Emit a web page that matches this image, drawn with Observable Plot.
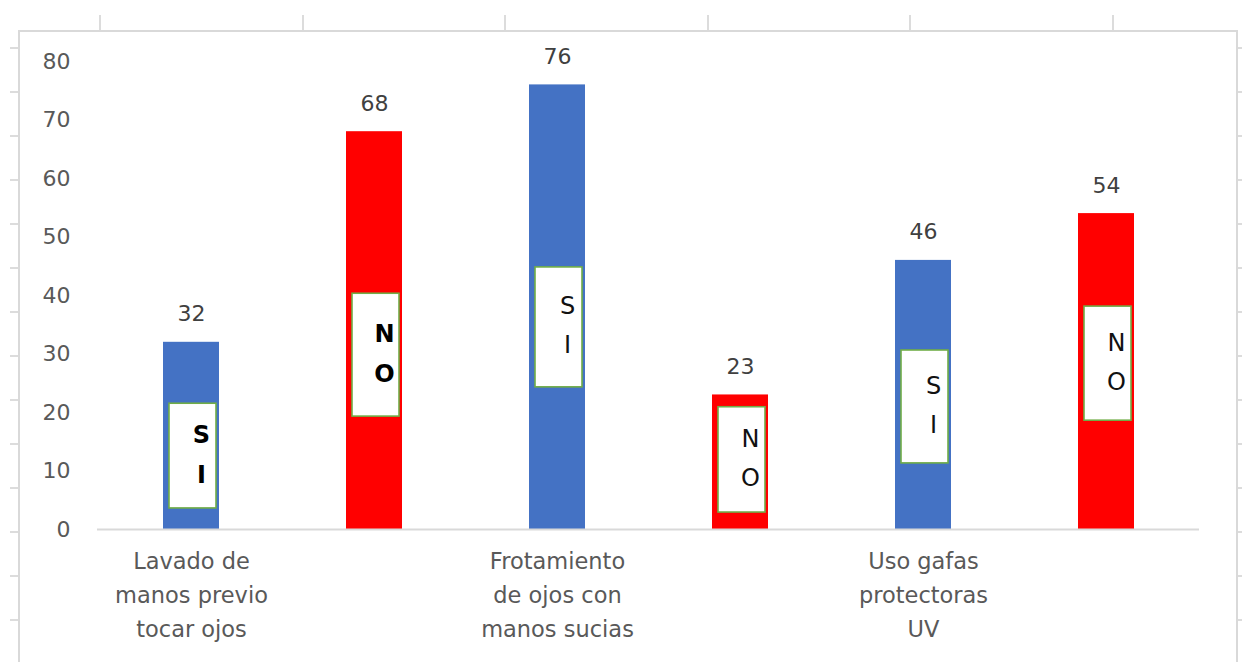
<!DOCTYPE html>
<html>
<head>
<meta charset="utf-8">
<script src="https://cdn.jsdelivr.net/npm/d3@7"></script>
<script src="https://cdn.jsdelivr.net/npm/@observablehq/plot@0.6"></script>
<style>
  html, body { margin: 0; padding: 0; background: #fff; }
  #page { position: relative; width: 1242px; height: 662px; overflow: hidden; background: #fff; font-family: "DejaVu Sans", sans-serif; }
  .cell { position: absolute; background: #dcdcdc; }
  #chart { position: absolute; left: 18px; top: 30px; width: 1216px; height: 700px; border: 2px solid #d9d9d9; background: #fff; }
  #chart svg { display: block; }
</style>
</head>
<body>
<div id="page"><div id="chart"></div></div>
<script>
// ---- data ----
const groups = ["Lavado de manos previo tocar ojos", "Frotamiento de ojos con manos sucias", "Uso gafas protectoras UV"];
const groupTickLabels = ["Lavado de\nmanos previo\ntocar ojos", "Frotamiento\nde ojos con\nmanos sucias", "Uso gafas\nprotectoras\nUV"];
const series = ["SI", "NO"];
const siValues = [32, 76, 46];
const noValues = [68, 23, 54];
// value range (in axis units) covered by the white "S I" / "N O" text boxes drawn on each bar
const siBoxRange = [[3.6, 21.5], [24.3, 44.8], [11.3, 30.6]];
const noBoxRange = [[19.3, 40.3], [2.9, 20.9], [18.6, 38.1]];
const yTicks = [0, 10, 20, 30, 40, 50, 60, 70, 80];
const seriesColors = ["#4472c4", "#ff0000"];

// ---- build table ----
const rows = [];
groups.forEach((g, i) => {
  rows.push({group: g, series: "SI", key: g + "|SI", value: siValues[i], lo: siBoxRange[i][0], hi: siBoxRange[i][1], tick: groupTickLabels[i]});
  rows.push({group: g, series: "NO", key: g + "|NO", value: noValues[i], lo: noBoxRange[i][0], hi: noBoxRange[i][1], tick: ""});
});
const tickByKey = new Map(rows.map(d => [d.key, d.tick]));
const letters = d => d.series.split("").join("\n");

// spreadsheet cell lines around the embedded chart (decoration)
const page = document.getElementById("page");
[100, 303, 505, 708, 910, 1113].forEach(x => {
  const e = document.createElement("div"); e.className = "cell";
  Object.assign(e.style, {left: (x - 1) + "px", top: "15px", width: "2px", height: "16px"});
  page.insertBefore(e, page.firstChild);
});
for (let y = 48; y < 662; y += 44) {
  const l = document.createElement("div"); l.className = "cell";
  Object.assign(l.style, {left: "10px", top: (y - 1) + "px", width: "9px", height: "2px"});
  page.insertBefore(l, page.firstChild);
  const r = document.createElement("div"); r.className = "cell";
  Object.assign(r.style, {left: "1235px", top: (y - 1) + "px", width: "7px", height: "2px"});
  page.insertBefore(r, page.firstChild);
}

const chart = Plot.plot({
  width: 1216,
  height: 630,
  marginTop: 29,
  marginBottom: 133,
  marginLeft: 77,
  marginRight: 37,
  style: {fontFamily: "'DejaVu Sans', sans-serif", background: "transparent"},
  x: {domain: rows.map(d => d.key), paddingInner: 0.695, paddingOuter: 0.3475, axis: null},
  y: {domain: [0, 80], axis: null},
  color: {domain: series, range: seriesColors},
  marks: [
    Plot.axisY({ticks: yTicks, tickSize: 0, tickPadding: 27, fontSize: 22, color: "#595959", label: null}),
    Plot.axisX({tickSize: 0, tickPadding: 15, fontSize: 22.5, color: "#595959", lineHeight: 1.52, label: null,
                tickFormat: k => tickByKey.get(k)}),
    Plot.barY(rows, {x: "key", y: "value", fill: "series"}),
    Plot.ruleY([0], {stroke: "#d9d9d9", strokeWidth: 2}),
    Plot.text(rows, {x: "key", y: "value", text: d => String(d.value), dy: -28, fontSize: 22, fill: "#404040"}),
    Plot.barY(rows, {x: "key", y1: "lo", y2: "hi", fill: "white", stroke: "#70ad47", strokeWidth: 1.6, insetLeft: 6, insetRight: 3}),
    Plot.text(rows.slice(0, 2), {x: "key", y: d => (d.lo + d.hi) / 2, text: letters, dx: 10, dy: -6, fontSize: 24, fontWeight: "bold", lineHeight: 1.65, fill: "#000"}),
    Plot.text(rows.slice(2), {x: "key", y: d => (d.lo + d.hi) / 2, text: letters, dx: 10, dy: -6, fontSize: 24, lineHeight: 1.62, fill: "#111"})
  ]
});
document.getElementById("chart").appendChild(chart);
</script>
</body>
</html>
